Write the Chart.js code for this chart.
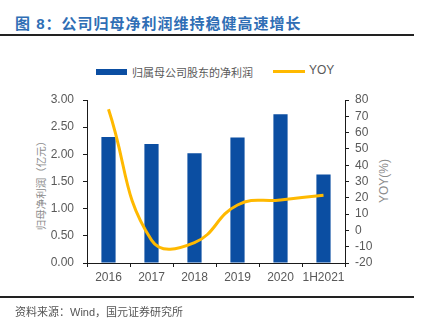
<!DOCTYPE html>
<html>
<head>
<meta charset="utf-8">
<script src="https://cdn.jsdelivr.net/npm/chart.js@4/dist/chart.umd.min.js"></script>
<style>
    body { margin: 0; background: #fff; font-family: "Liberation Sans", "Noto Sans CJK SC", sans-serif; }
    #wrap { position: relative; width: 431px; height: 328px; overflow: hidden; }
    #chart { position: absolute; left: 0; top: 0; }
    .title { position: absolute; left: 15px; top: 12px; font-size: 15px; font-weight: bold; color: #2F6EB5; letter-spacing: 1px; white-space: nowrap; }
    .rule { position: absolute; left: 0; width: 414px; height: 1.5px; background: #222; }
    .source { position: absolute; left: 15px; top: 303px; font-size: 11px; color: #555; white-space: nowrap; }
    .legend { position: absolute; top: 64px; font-size: 11px; color: #595959; white-space: nowrap; }
    .swatch { position: absolute; }
    .ytitle { position: absolute; font-size: 10.5px; color: #8c8c8c; white-space: nowrap; transform: translate(-50%, -50%) rotate(-90deg); }
</style>
</head>
<body>
<div id="wrap">
    <div class="title">图 8：公司归母净利润维持稳健高速增长</div>
    <div class="rule" style="top: 34px;"></div>

    <div class="swatch" style="left: 96px; top: 69px; width: 31px; height: 6px; background: #0B4EA2;"></div>
    <div class="legend" style="left: 132px;">归属母公司股东的净利润</div>
    <div class="swatch" style="left: 273px; top: 70px; width: 32px; height: 3px; background: #FFB900;"></div>
    <div class="legend" style="left: 309px; font-size: 12px; top: 63px;">YOY</div>

    <div class="ytitle" style="left: 40px; top: 183px;">归母净利润（亿元）</div>
    <div class="ytitle" style="left: 384px; top: 181px; font-size: 12px;">YOY(%)</div>

    <canvas id="chart" width="431" height="328"></canvas>

    <div class="rule" style="top: 296px;"></div>
    <div class="source">资料来源：Wind，国元证券研究所</div>
</div>
<script>
// 数据
const categories = ['2016', '2017', '2018', '2019', '2020', '1H2021'];
const netProfit = [2.32, 2.19, 2.02, 2.31, 2.74, 1.63];   // 亿元
const yoy = [74.3, -6.0, -7.5, 15.6, 18.7, 21.6];          // %

const leftTicks = { min: 0, max: 3, step: 0.5 };
const rightTicks = { min: -20, max: 80, step: 10 };

const tickColor = '#595959';
const axisColor = '#1a1a1a';
const fontFamily = '"Liberation Sans", "Noto Sans CJK SC", sans-serif';

const ctx = document.getElementById('chart').getContext('2d');

new Chart(ctx, {
    type: 'bar',
    data: {
        labels: categories,
        datasets: [
            {
                type: 'line',
                label: 'YOY',
                data: yoy,
                yAxisID: 'y1',
                borderColor: '#FFB900',
                borderWidth: 3,
                pointRadius: 0,
                tension: 0.45,
                fill: false,
                order: 0
            },
            {
                type: 'bar',
                label: '归属母公司股东的净利润',
                data: netProfit,
                yAxisID: 'y',
                backgroundColor: '#0B4EA2',
                categoryPercentage: 1,
                barPercentage: 0.33,
                order: 1
            }
        ]
    },
    options: {
        responsive: false,
        animation: false,
        layout: { padding: { top: 100, bottom: 0, left: 0, right: 0 } },
        plugins: {
            legend: { display: false },
            tooltip: { enabled: false }
        },
        scales: {
            x: {
                grid: { display: true, drawOnChartArea: false, offset: true, tickLength: 4, color: axisColor },
                border: { color: axisColor, width: 1 },
                ticks: {
                    color: tickColor,
                    font: { family: fontFamily, size: 12 },
                    padding: 3,
                    maxRotation: 0,
                    minRotation: 0,
                    autoSkip: false
                },
                afterFit: function(scale) { scale.height = 65; }
            },
            y: {
                position: 'left',
                min: leftTicks.min,
                max: leftTicks.max,
                grid: { display: true, drawOnChartArea: false, tickLength: 4, color: axisColor },
                border: { color: axisColor, width: 1 },
                ticks: {
                    stepSize: leftTicks.step,
                    autoSkip: false,
                    color: tickColor,
                    font: { family: fontFamily, size: 12 },
                    padding: 9,
                    callback: function(value) { return value.toFixed(2); }
                },
                afterFit: function(scale) { scale.width = 87; }
            },
            y1: {
                position: 'right',
                min: rightTicks.min,
                max: rightTicks.max,
                grid: { display: true, drawOnChartArea: false, tickLength: 4, color: axisColor },
                border: { color: axisColor, width: 1 },
                ticks: {
                    stepSize: rightTicks.step,
                    autoSkip: false,
                    color: tickColor,
                    font: { family: fontFamily, size: 12 },
                    padding: 6
                },
                afterFit: function(scale) { scale.width = 86; }
            }
        }
    }
});
</script>
</body>
</html>
